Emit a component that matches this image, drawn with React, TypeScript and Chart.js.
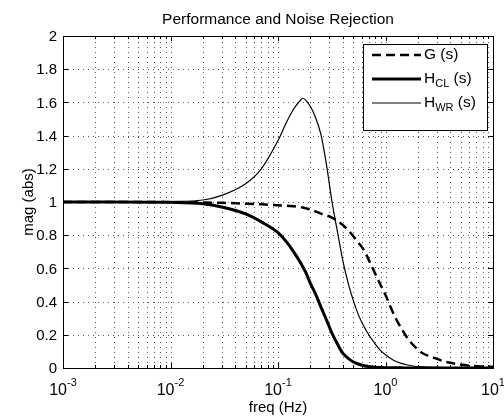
import React, { useEffect, useRef } from 'react';
import { Chart, registerables } from 'chart.js';

Chart.register(...registerables);

// Frequencies (Hz) at which the curves were read
const freqHz = [
  0.001, 0.003, 0.01, 0.02, 0.03, 0.05, 0.07, 0.1, 0.12, 0.14, 0.16, 0.17, 0.18, 0.2,
  0.22, 0.25, 0.28, 0.32, 0.36, 0.4, 0.45, 0.5, 0.56, 0.63, 0.7, 0.8, 0.9, 1, 1.2,
  1.4, 1.6, 1.8, 2.2, 2.8, 3.5, 4.5, 6, 8, 10,
];

// G(s) magnitude (dashed)
const gMag = [
  1.0, 1.0, 0.999, 0.997, 0.995, 0.99, 0.986, 0.98, 0.977, 0.975, 0.97, 0.967, 0.963, 0.955,
  0.945, 0.93, 0.92, 0.905, 0.885, 0.862, 0.83, 0.795, 0.755, 0.71, 0.65, 0.57, 0.5, 0.44, 0.32,
  0.24, 0.18, 0.14, 0.09, 0.062, 0.04, 0.025, 0.014, 0.009, 0.007,
];

// H_CL(s) magnitude (thick)
const hclMag = [
  1.0, 1.0, 0.998, 0.99, 0.97, 0.928, 0.88, 0.815, 0.76, 0.7, 0.64, 0.61, 0.58, 0.51,
  0.455, 0.37, 0.295, 0.205, 0.14, 0.09, 0.058, 0.038, 0.024, 0.014, 0.009, 0.005, 0.003, 0.002, 0.001,
  0.001, 0.0005, 0.0004, 0.0003, 0.0002, 0.0001, 0.0001, 0, 0, 0,
];

// H_WR(s) magnitude (thin)
const hwrMag = [
  1.0, 1.0, 1.003, 1.012, 1.04, 1.11, 1.2, 1.37, 1.48, 1.56, 1.61, 1.625, 1.615, 1.575,
  1.52, 1.41, 1.24, 0.99, 0.81, 0.65, 0.51, 0.41, 0.32, 0.25, 0.2, 0.145, 0.105, 0.08, 0.045,
  0.028, 0.018, 0.012, 0.007, 0.004, 0.003, 0.002, 0.001, 0.001, 0.001,
];

const yTicks = [0, 0.2, 0.4, 0.6, 0.8, 1, 1.2, 1.4, 1.6, 1.8, 2];
const yTickLabels = ['0', '0.2', '0.4', '0.6', '0.8', '1', '1.2', '1.4', '1.6', '1.8', '2'];
const xDecades = [0.001, 0.01, 0.1, 1, 10];
const xDecadeExponents = ['-3', '-2', '-1', '0', '1'];
const xMinorMultipliers = [2, 3, 4, 5, 6, 7, 8, 9];

const titleText = 'Performance and Noise Rejection';
const xLabelText = 'freq (Hz)';
const yLabelText = 'mag (abs)';

const FONT = '"Liberation Sans", Arial, Helvetica, sans-serif';

function toPoints(mags: number[]) {
  return freqHz.map((f, i) => ({ x: f, y: mags[i] }));
}

const matlabAxes = {
  id: 'matlabAxes',
  beforeDatasetsDraw(chart: any) {
    const { ctx, chartArea } = chart;
    const xs = chart.scales.x;
    const ys = chart.scales.y;
    const { left, right, top, bottom } = chartArea;
    ctx.save();
    ctx.strokeStyle = '#555';
    ctx.lineWidth = 1;
    ctx.setLineDash([1, 4]);
    const xVals: number[] = [];
    for (let d = 0; d < xDecades.length; d++) {
      xVals.push(xDecades[d]);
      if (d < xDecades.length - 1) {
        for (const m of xMinorMultipliers) xVals.push(xDecades[d] * m);
      }
    }
    for (const v of xVals) {
      const px = Math.round(xs.getPixelForValue(v)) + 0.5;
      if (px <= left + 1 || px >= right - 1) continue;
      ctx.beginPath();
      ctx.moveTo(px, bottom);
      ctx.lineTo(px, top);
      ctx.stroke();
    }
    for (const v of yTicks) {
      const py = Math.round(ys.getPixelForValue(v)) + 0.5;
      if (py <= top + 1 || py >= bottom - 1) continue;
      ctx.beginPath();
      ctx.moveTo(left, py);
      ctx.lineTo(right, py);
      ctx.stroke();
    }
    ctx.restore();
  },
  afterDatasetsDraw(chart: any) {
    const { ctx, chartArea } = chart;
    const xs = chart.scales.x;
    const ys = chart.scales.y;
    const { left, right, top, bottom } = chartArea;
    ctx.save();
    ctx.setLineDash([]);
    ctx.strokeStyle = '#000';
    ctx.fillStyle = '#000';
    ctx.lineWidth = 1;
    ctx.strokeRect(Math.round(left) + 0.5, Math.round(top) + 0.5, Math.round(right - left), Math.round(bottom - top));
    for (const v of yTicks) {
      const py = Math.round(ys.getPixelForValue(v)) + 0.5;
      ctx.beginPath();
      ctx.moveTo(left, py);
      ctx.lineTo(left + 5, py);
      ctx.moveTo(right, py);
      ctx.lineTo(right - 5, py);
      ctx.stroke();
    }
    for (let d = 0; d < xDecades.length; d++) {
      const px = Math.round(xs.getPixelForValue(xDecades[d])) + 0.5;
      ctx.beginPath();
      ctx.moveTo(px, bottom);
      ctx.lineTo(px, bottom - 5);
      ctx.moveTo(px, top);
      ctx.lineTo(px, top + 5);
      ctx.stroke();
      if (d < xDecades.length - 1) {
        for (const m of xMinorMultipliers) {
          const mx = Math.round(xs.getPixelForValue(xDecades[d] * m)) + 0.5;
          ctx.beginPath();
          ctx.moveTo(mx, bottom);
          ctx.lineTo(mx, bottom - 3);
          ctx.moveTo(mx, top);
          ctx.lineTo(mx, top + 3);
          ctx.stroke();
        }
      }
    }
    ctx.font = `15px ${FONT}`;
    ctx.textAlign = 'right';
    ctx.textBaseline = 'middle';
    yTicks.forEach((v, i) => {
      ctx.fillText(yTickLabels[i], left - 6, ys.getPixelForValue(v) + 1);
    });
    ctx.textAlign = 'left';
    ctx.textBaseline = 'alphabetic';
    xDecades.forEach((v, i) => {
      const px = xs.getPixelForValue(v);
      ctx.font = `16px ${FONT}`;
      const wBase = ctx.measureText('10').width;
      ctx.font = `11px ${FONT}`;
      const wExp = ctx.measureText(xDecadeExponents[i]).width;
      const x0 = px - (wBase + wExp) / 2;
      ctx.font = `16px ${FONT}`;
      ctx.fillText('10', x0, bottom + 27);
      ctx.font = `11px ${FONT}`;
      ctx.fillText(xDecadeExponents[i], x0 + wBase, bottom + 18);
    });
    ctx.font = `15px ${FONT}`;
    ctx.textAlign = 'center';
    ctx.fillText(xLabelText, (left + right) / 2, bottom + 44);
    ctx.save();
    ctx.translate(29, (top + bottom) / 2);
    ctx.rotate(-Math.PI / 2);
    ctx.textBaseline = 'middle';
    ctx.fillText(yLabelText, 0, 0);
    ctx.restore();
    ctx.textAlign = 'center';
    ctx.textBaseline = 'alphabetic';
    ctx.font = `15.5px ${FONT}`;
    ctx.fillText(titleText, (left + right) / 2, 23.5);

    const lx = 363, ly = 44, lw = 124, lh = 86;
    ctx.fillStyle = '#fff';
    ctx.fillRect(lx, ly, lw, lh);
    ctx.strokeStyle = '#000';
    ctx.lineWidth = 1;
    ctx.strokeRect(lx + 0.5, ly + 0.5, lw, lh);
    const entries = chart.data.datasets;
    const rows = [55, 79, 103];
    entries.forEach((ds: any, i: number) => {
      const y = rows[i];
      ctx.strokeStyle = '#000';
      ctx.lineWidth = ds.borderWidth;
      ctx.setLineDash(ds.borderDash || []);
      ctx.beginPath();
      ctx.moveTo(372, y);
      ctx.lineTo(421, y);
      ctx.stroke();
      ctx.setLineDash([]);
      ctx.fillStyle = '#000';
      ctx.textAlign = 'left';
      ctx.textBaseline = 'middle';
      const [base, sub, rest] = ds.legendParts;
      let x = 424;
      ctx.font = `15.5px ${FONT}`;
      ctx.fillText(base, x, y);
      x += ctx.measureText(base).width;
      if (sub) {
        ctx.font = `11px ${FONT}`;
        ctx.fillText(sub, x, y + 5);
        x += ctx.measureText(sub).width;
      }
      ctx.font = `15.5px ${FONT}`;
      ctx.fillText(rest, x, y);
    });
    ctx.restore();
  },
};

export default function App() {
  const canvasRef = useRef<HTMLCanvasElement | null>(null);

  useEffect(() => {
    document.body.style.margin = '0';
    const canvas = canvasRef.current;
    if (!canvas) return;
    const chart = new Chart(canvas, {
      type: 'line',
      data: {
        datasets: [
          {
            label: 'G (s)',
            legendParts: ['G', '', ' (s)'],
            data: toPoints(gMag),
            borderColor: '#000',
            borderWidth: 2.5,
            borderDash: [9, 5],
            pointRadius: 0,
            cubicInterpolationMode: 'monotone',
            fill: false,
          } as any,
          {
            label: 'H_CL (s)',
            legendParts: ['H', 'CL', ' (s)'],
            data: toPoints(hclMag),
            borderColor: '#000',
            borderWidth: 3,
            pointRadius: 0,
            cubicInterpolationMode: 'monotone',
            fill: false,
          } as any,
          {
            label: 'H_WR (s)',
            legendParts: ['H', 'WR', ' (s)'],
            data: toPoints(hwrMag),
            borderColor: '#000',
            borderWidth: 1.2,
            pointRadius: 0,
            cubicInterpolationMode: 'monotone',
            fill: false,
          } as any,
        ],
      },
      options: {
        responsive: false,
        animation: false,
        devicePixelRatio: 1,
        layout: { padding: { left: 63, right: 11, top: 36, bottom: 52 } },
        scales: {
          x: { type: 'logarithmic', min: 0.001, max: 10, display: false },
          y: { type: 'linear', min: 0, max: 2, display: false },
        },
        plugins: {
          legend: { display: false },
          title: { display: false },
          tooltip: { enabled: false },
        },
        events: [],
      },
      plugins: [matlabAxes],
    });
    return () => chart.destroy();
  }, []);

  return (
    <div style={{ position: 'absolute', left: 0, top: 0, width: 504, height: 420, background: '#fff' }}>
      <canvas ref={canvasRef} width={504} height={420} style={{ width: 504, height: 420 }} />
    </div>
  );
}
